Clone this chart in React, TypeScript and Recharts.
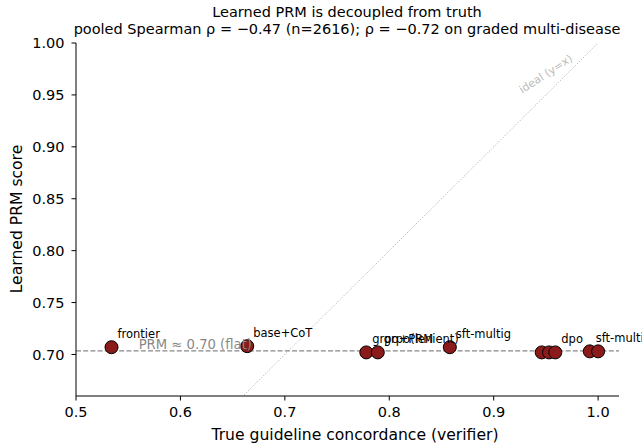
import { ScatterChart, Scatter, XAxis, YAxis, ReferenceLine } from "recharts"

const names = ["frontier", "base+CoT", "grpo+PRM", "grpo(lenient)", "sft-multig", "", "", "dpo", "sft-multi", ""]
const truth = [0.534, 0.664, 0.778, 0.789, 0.858, 0.946, 0.953, 0.959, 0.992, 1.0]
const prmScore = [0.707, 0.708, 0.702, 0.702, 0.707, 0.702, 0.702, 0.702, 0.703, 0.703]
const xTicks = [0.5, 0.6, 0.7, 0.8, 0.9, 1.0]
const yTicks = [0.7, 0.75, 0.8, 0.85, 0.9, 0.95, 1.0]
const prmMean = 0.7035

const data = names.map((name, i) => ({ name, truth: truth[i], prm: prmScore[i] }))
const flatNote = [{ truth: 0.56, prm: 0.7055 }]
const idealNote = [{ truth: 0.95, prm: 0.97 }]

const font = "DejaVu Sans, Verdana, sans-serif"
const W = 642
const H = 444

const dot = (props: any) => (
  <circle cx={props.cx} cy={props.cy} r={6.5} fill="#8b1a1a" stroke="#000" strokeWidth={1} />
)

const pointLabel = (props: any) => {
  const name = props.payload?.name
  if (!name) return <g />
  return (
    <text x={props.cx + 6} y={props.cy - 9} fontSize={11.5} fontFamily={font} fill="#000">
      {name}
    </text>
  )
}

const flatLabel = (p: any) => (
  <text x={p.cx} y={p.cy} fontSize={13.2} fontFamily={font} fill="#888888">
    PRM ≈ 0.70 (flat)
  </text>
)

const idealLabel = (p: any) => (
  <text
    x={p.cx}
    y={p.cy}
    fontSize={11}
    fontFamily={font}
    fill="#bbbbbb"
    textAnchor="middle"
    dominantBaseline="central"
    transform={`rotate(-33 ${p.cx} ${p.cy})`}
  >
    ideal (y=x)
  </text>
)

export default function App() {
  return (
    <div style={{ position: "absolute", left: 0, top: 0, width: W, height: H, background: "#fff" }}>
      <ScatterChart width={W} height={H} margin={{ top: 43, right: 23, bottom: 0, left: 10 }}>
        <XAxis
          type="number"
          dataKey="truth"
          domain={[0.5, 1.02]}
          ticks={xTicks}
          tickFormatter={(v) => v.toFixed(1)}
          height={48}
          tickSize={4.5}
          tickMargin={6}
          stroke="#000"
          tick={{ fill: "#000", fontSize: 14.5, fontFamily: font }}
        />
        <YAxis
          type="number"
          dataKey="prm"
          domain={[0.66, 1.0]}
          ticks={yTicks}
          tickFormatter={(v) => v.toFixed(2)}
          width={66}
          tickSize={4.5}
          tickMargin={7}
          stroke="#000"
          tick={{ fill: "#000", fontSize: 14.5, fontFamily: font }}
        />
        <ReferenceLine
          segment={[{ x: 0.661, y: 0.661 }, { x: 1.0, y: 1.0 }]}
          stroke="#aaaaaa"
          strokeWidth={1}
          strokeDasharray="1 1.7"
        />
        <ReferenceLine y={prmMean} stroke="#888888" strokeWidth={1.3} strokeDasharray="5 2.2" />
        <Scatter data={data} shape={dot} isAnimationActive={false} />
        <Scatter data={data} shape={pointLabel} isAnimationActive={false} />
        <Scatter data={flatNote} shape={flatLabel} isAnimationActive={false} />
        <Scatter data={idealNote} shape={idealLabel} isAnimationActive={false} />
      </ScatterChart>
      <svg width={W} height={H} style={{ position: "absolute", left: 0, top: 0, pointerEvents: "none" }}>
        <text x={347} y={17} textAnchor="middle" fontSize={14.5} fontFamily={font} fill="#000">
          Learned PRM is decoupled from truth
        </text>
        <text x={347} y={34} textAnchor="middle" fontSize={14.5} fontFamily={font} fill="#000">
          pooled Spearman ρ = −0.47 (n=2616); ρ = −0.72 on graded multi-disease
        </text>
        <text x={355} y={439.5} textAnchor="middle" fontSize={15.6} fontFamily={font} fill="#000">
          True guideline concordance (verifier)
        </text>
        <text
          x={22}
          y={219}
          textAnchor="middle"
          fontSize={15.6}
          fontFamily={font}
          fill="#000"
          transform="rotate(-90 22 219)"
        >
          Learned PRM score
        </text>
      </svg>
    </div>
  )
}
